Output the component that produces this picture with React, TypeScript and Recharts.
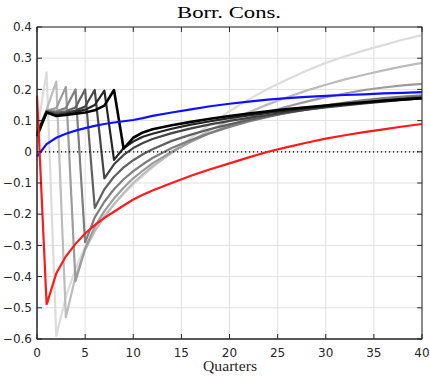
import { CartesianGrid, Line, LineChart, ReferenceLine, XAxis, YAxis } from 'recharts'

const quarters = [0, 1, 2, 3, 4, 5, 6, 7, 8, 9, 10, 11, 12, 14, 16, 18, 20, 22, 24, 26, 28, 30, 32, 34, 36, 38, 40]

const redSeries = [0.18, -0.49, -0.39, -0.335, -0.295, -0.262, -0.235, -0.212, -0.192, -0.172, -0.153, -0.138, -0.124, -0.1, -0.077, -0.056, -0.037, -0.018, 0.0, 0.015, 0.029, 0.042, 0.053, 0.063, 0.072, 0.081, 0.089]
const blueSeries = [-0.015, 0.025, 0.045, 0.058, 0.068, 0.076, 0.083, 0.089, 0.094, 0.098, 0.102, 0.108, 0.115, 0.126, 0.136, 0.146, 0.154, 0.161, 0.167, 0.172, 0.176, 0.179, 0.182, 0.184, 0.187, 0.189, 0.191]

// one path per spike quarter (1..8), light to dark
const spike1 = [0.065, 0.255, -0.59, -0.465, -0.375, -0.305, -0.25, -0.205, -0.168, -0.135, -0.105, -0.077, -0.05, 0.0, 0.045, 0.088, 0.13, 0.168, 0.202, 0.232, 0.26, 0.285, 0.306, 0.325, 0.342, 0.359, 0.374]
const spike2 = [0.062, 0.135, 0.225, -0.53, -0.4, -0.315, -0.255, -0.208, -0.168, -0.132, -0.1, -0.072, -0.047, -0.003, 0.035, 0.07, 0.1, 0.127, 0.152, 0.175, 0.196, 0.215, 0.232, 0.247, 0.261, 0.274, 0.285]
const spike3 = [0.06, 0.132, 0.14, 0.208, -0.415, -0.31, -0.24, -0.19, -0.15, -0.115, -0.085, -0.06, -0.037, 0.0, 0.032, 0.06, 0.085, 0.107, 0.127, 0.145, 0.161, 0.175, 0.187, 0.198, 0.206, 0.213, 0.218]
const spike4 = [0.06, 0.13, 0.13, 0.14, 0.2, -0.29, -0.21, -0.16, -0.12, -0.088, -0.062, -0.04, -0.02, 0.012, 0.038, 0.06, 0.08, 0.097, 0.112, 0.126, 0.138, 0.149, 0.158, 0.166, 0.172, 0.177, 0.181]
const spike5 = [0.06, 0.13, 0.125, 0.13, 0.142, 0.2, -0.18, -0.12, -0.08, -0.05, -0.027, -0.008, 0.008, 0.035, 0.055, 0.073, 0.088, 0.102, 0.114, 0.125, 0.135, 0.144, 0.152, 0.159, 0.165, 0.171, 0.177]
const spike6 = [0.058, 0.128, 0.12, 0.125, 0.132, 0.145, 0.198, -0.085, -0.04, -0.01, 0.012, 0.028, 0.041, 0.06, 0.075, 0.088, 0.099, 0.109, 0.118, 0.127, 0.135, 0.142, 0.149, 0.155, 0.161, 0.166, 0.172]
const spike7 = [0.055, 0.127, 0.117, 0.121, 0.127, 0.135, 0.15, 0.196, -0.026, 0.012, 0.033, 0.048, 0.058, 0.074, 0.087, 0.098, 0.108, 0.117, 0.125, 0.132, 0.139, 0.146, 0.152, 0.157, 0.162, 0.167, 0.171]
const spike8 = [0.05, 0.126, 0.115, 0.118, 0.122, 0.126, 0.133, 0.148, 0.198, 0.01, 0.045, 0.062, 0.072, 0.085, 0.096, 0.106, 0.115, 0.123, 0.13, 0.137, 0.143, 0.148, 0.154, 0.159, 0.164, 0.168, 0.172]

const spikes = [spike1, spike2, spike3, spike4, spike5, spike6, spike7, spike8]
const grays = ['#dcdcdc', '#bcbcbc', '#9c9c9c', '#7e7e7e', '#606060', '#444444', '#262626', '#000000']

const xTicks = [0, 5, 10, 15, 20, 25, 30, 35, 40]
const yTicks = [-0.6, -0.5, -0.4, -0.3, -0.2, -0.1, 0, 0.1, 0.2, 0.3, 0.4]
const xMin = 0
const xMax = 40
const yMin = -0.6
const yMax = 0.4

const rows = quarters.map((q, i) => {
  const row: Record<string, number> = { q, red: redSeries[i], blue: blueSeries[i] }
  spikes.forEach((s, k) => {
    row[`s${k + 1}`] = s[i]
  })
  return row
})

const W = 430
const H = 376
const M = { top: 27, right: 8, bottom: 0, left: 0 }
const yAxisW = 37
const xAxisH = 37
const axisColor = '#262626'
const tickFont = { fill: '#262626', fontSize: 12, fontFamily: 'DejaVu Sans' }
// inward tick length on the top / right box edges, in data units
const xTickLen = 0.5
const yTickLen = 0.016

const fmtY = (v: number) => (v === 0 ? '0' : v < 0 ? `\u2212${Math.abs(v).toFixed(1)}` : v.toFixed(1))

export default function App() {
  const plotW = W - M.left - M.right - yAxisW
  const plotH = H - M.top - M.bottom - xAxisH
  return (
    <div style={{ position: 'absolute', left: 0, top: 0, width: W, height: H, background: '#fff' }}>
      <LineChart width={W} height={H} data={rows} margin={M}>
        <CartesianGrid stroke="#e0e0e0" strokeWidth={1} />
        <XAxis
          dataKey="q"
          type="number"
          domain={[xMin, xMax]}
          ticks={xTicks}
          height={xAxisH}
          tickSize={-5}
          tickMargin={14}
          stroke={axisColor}
          tick={tickFont}
        />
        <YAxis
          type="number"
          domain={[yMin, yMax]}
          ticks={yTicks}
          width={yAxisW}
          tickSize={-5}
          tickMargin={10}
          tickFormatter={fmtY}
          stroke={axisColor}
          tick={tickFont}
        />
        {spikes.map((_, k) => (
          <Line
            key={k}
            type="linear"
            dataKey={`s${k + 1}`}
            stroke={grays[k]}
            strokeWidth={k === 7 ? 2.6 : 2.2}
            dot={false}
            strokeLinejoin="round"
            isAnimationActive={false}
          />
        ))}
        <ReferenceLine y={0} stroke="#000" strokeWidth={1.2} strokeDasharray="1.2 2.8" />
        <Line type="linear" dataKey="blue" stroke="#1010ff" strokeWidth={2.2} dot={false} isAnimationActive={false} />
        <Line type="linear" dataKey="red" stroke="#ff1a1a" strokeWidth={2.2} dot={false} isAnimationActive={false} />
        {xTicks.map((t) => (
          <ReferenceLine
            key={`tx${t}`}
            segment={[
              { x: t, y: yMax },
              { x: t, y: yMax - yTickLen },
            ]}
            stroke={axisColor}
            ifOverflow="visible"
          />
        ))}
        {yTicks.map((t) => (
          <ReferenceLine
            key={`ty${t}`}
            segment={[
              { x: xMax, y: t },
              { x: xMax - xTickLen, y: t },
            ]}
            stroke={axisColor}
            ifOverflow="visible"
          />
        ))}
      </LineChart>
      <svg width={W} height={H} style={{ position: 'absolute', left: 0, top: 0, pointerEvents: 'none' }}>
        <rect
          x={M.left + yAxisW}
          y={M.top}
          width={plotW}
          height={plotH}
          fill="none"
          stroke={axisColor}
          strokeWidth={1}
        />
        <text x={229} y={18} textAnchor="middle" fontFamily="Liberation Serif" fontSize={17} textLength={104} lengthAdjust="spacingAndGlyphs" fill="#000">
          Borr. Cons.
        </text>
        <text x={230} y={371} textAnchor="middle" fontFamily="Liberation Serif" fontSize={14} textLength={54} lengthAdjust="spacingAndGlyphs" fill="#262626">
          Quarters
        </text>
      </svg>
    </div>
  )
}
